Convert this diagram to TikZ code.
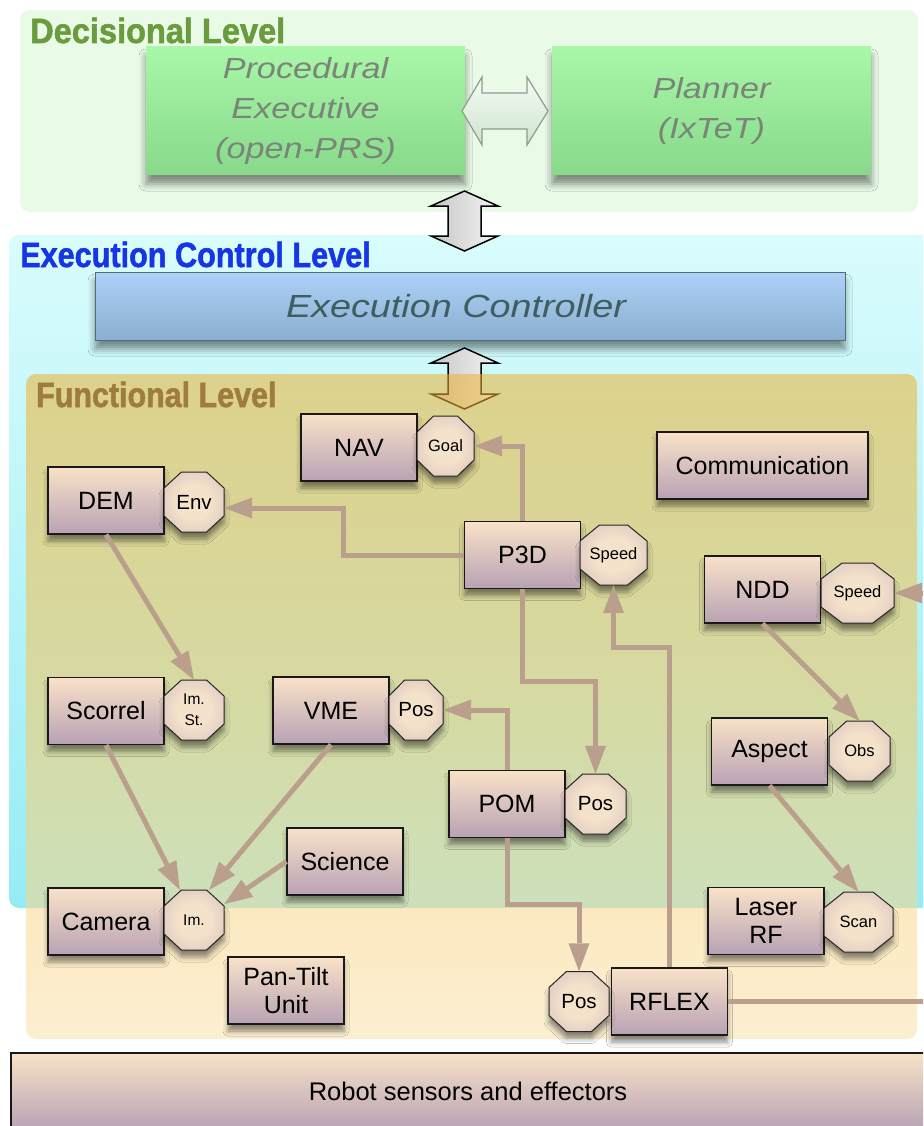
\documentclass[tikz,border=0pt]{standalone}
\usepackage{fontspec}
\usepackage{graphicx}
\setmainfont{Liberation Sans}
\newfontfamily\wideit[FakeStretch=1.18]{Liberation Sans}
\newfontfamily\levelfont[BoldFeatures={FakeBold=1.6}]{Liberation Sans}
\usetikzlibrary{arrows.meta,shadows.blur,calc}

% palette
\definecolor{decbg}{HTML}{E9FBE7}
\definecolor{cyantop}{HTML}{DAFCFD}
\definecolor{cyanbot}{HTML}{96ECF4}
\definecolor{decboxtop}{HTML}{A9F7A9}
\definecolor{decboxbot}{HTML}{88D98A}
\definecolor{dectext}{HTML}{7A857A}
\definecolor{hollowdraw}{HTML}{8F9A8F}
\definecolor{hollowtop}{HTML}{F4FBF4}
\definecolor{hollowbot}{HTML}{CFE3CF}
\definecolor{ecboxtop}{HTML}{AED0F8}
\definecolor{ecboxbot}{HTML}{8AAFCF}
\definecolor{ecborder}{HTML}{4F6C78}
\definecolor{ectext}{HTML}{3E5E60}
\definecolor{functop}{HTML}{ECB232}
\definecolor{funcmid}{HTML}{FAC85F}
\definecolor{funcbot}{HTML}{FAE2AC}
\definecolor{modtop}{HTML}{F9E2C8}
\definecolor{modbot}{HTML}{B8A2B4}
\definecolor{portin}{HTML}{F4E2CA}
\definecolor{portout}{HTML}{C6AEB8}
\definecolor{conn}{HTML}{BAA08C}
\definecolor{declbl}{HTML}{6A9B3C}
\definecolor{eclbl}{HTML}{1636E6}
\definecolor{funclbl}{HTML}{9E7C3E}

% light centre fading to mauve at the edges of a port
\pgfdeclareradialshading{portball}{\pgfpoint{0bp}{0bp}}{%
  color(0bp)=(portin); color(14bp)=(portin); color(50bp)=(portout);
  color(75bp)=(portout)}

\tikzset{
  softshadow/.style={blur shadow={shadow xshift=0pt, shadow yshift=-7pt,
      shadow blur radius=5pt, shadow opacity=45}},
  bigshadow/.style={blur shadow={shadow xshift=0pt, shadow yshift=-9pt,
      shadow blur radius=7pt, shadow opacity=45}},
  decbox/.style={minimum width=319pt, minimum height=128pt, inner sep=0pt,
      top color=decboxtop, bottom color=decboxbot, text=dectext, align=center,
      font=\wideit\itshape\fontsize{29}{40}\selectfont, bigshadow},
  ecbox/.style={draw=ecborder, line width=1pt, minimum width=750pt,
      minimum height=68pt, inner sep=0pt, top color=ecboxtop,
      bottom color=ecboxbot, text=ectext, bigshadow},
  ectextstyle/.style={inner sep=0pt, text=ectext,
      font=\wideit\itshape\fontsize{32}{36}\selectfont},
  hollowarrow/.style={draw=hollowdraw, line width=1.2pt, top color=hollowtop,
      bottom color=hollowbot},
  dblarrow/.style={draw=black, line width=1.5pt, line join=miter,
      left color=gray!45, right color=gray!8},
  levellabel/.style={anchor=base west, inner sep=0pt,
      font=\levelfont\bfseries\fontsize{35}{40}\selectfont},
  module/.style={draw=black!90, line width=1.1pt, top color=modtop,
      bottom color=modbot, minimum width=116pt, minimum height=67pt,
      inner sep=0pt, align=center, text=black,
      font=\fontsize{25}{28}\selectfont, softshadow},
  portshape/.style={draw=black!85, line width=1pt, shading=portball,
      softshadow},
  porttext/.style={inner sep=0pt, minimum height=60pt, align=center,
      text=black},
  link/.style={draw=conn, line width=5pt,
      -{Triangle[length=28pt,width=21pt,line width=0pt]}},
  robotbox/.style={draw=black!90, line width=1.2pt, top color=modtop,
      bottom color=modbot, inner sep=0pt,
      font=\fontsize{25.5}{28}\selectfont},
}

% octagonal port: name, centre x, centre y, width, font size, label
\newcommand\portat[6]{%
  \pgfmathsetmacro\oxl{#2-#4/2}\pgfmathsetmacro\oxr{#2+#4/2}%
  \pgfmathsetmacro\oxa{#2-#4/2+0.29*#4}\pgfmathsetmacro\oxb{#2+#4/2-0.29*#4}%
  \pgfmathsetmacro\oyt{#3-30}\pgfmathsetmacro\oyb{#3+30}%
  \pgfmathsetmacro\oyu{#3-14}\pgfmathsetmacro\oyv{#3+14}%
  \shade[portshape] (\oxa,\oyt) -- (\oxb,\oyt) -- (\oxr,\oyu) -- (\oxr,\oyv)
     -- (\oxb,\oyb) -- (\oxa,\oyb) -- (\oxl,\oyv) -- (\oxl,\oyu) -- cycle;
  \node[porttext, minimum width=#4pt, font=\fontsize{#5}{21}\selectfont]
     (#1) at (#2,#3) {#6};
}

% vertical two-headed block arrow: centre x, top tip y, bottom tip y
\newcommand\vdarrow[3]{%
  \path[dblarrow] (#1,#2) -- ({#1+33.5},{#2+15}) -- ({#1+16.5},{#2+15})
     -- ({#1+16.5},{#3-15}) -- ({#1+33.5},{#3-15}) -- (#1,#3)
     -- ({#1-33.5},{#3-15}) -- ({#1-16.5},{#3-15}) -- ({#1-16.5},{#2+15})
     -- ({#1-33.5},{#2+15}) -- cycle;
}

\begin{document}
\begin{tikzpicture}[x=1pt,y=-1pt]
\useasboundingbox (0,0) rectangle (923,1126);
\clip (0,0) rectangle (923,1126);
\fill[white] (0,0) rectangle (923,1126);

% level backgrounds
\fill[decbg, rounded corners=10pt] (20,10) rectangle (918,212);
\shade[rounded corners=10pt, top color=cyantop, bottom color=cyanbot]
  (9,235) rectangle (950,908);

% decisional level
\node[decbox] (proc) at (305.5,111) {Procedural\\Executive\\(open-PRS)};
\node[decbox] (plan) at (711.5,111) {Planner\\(IxTeT)};
\path[hollowarrow] (462,111) -- (482,77) -- (482,93) -- (527,93) -- (527,77)
  -- (548,111) -- (527,145) -- (527,129) -- (482,129) -- (482,145) -- cycle;

\vdarrow{464.5}{191}{251}

% execution control level
\node[ecbox] (ec) at (470,306) {};
\node[ectextstyle] (ectext) at ([xshift=-14pt]ec.center) {Execution Controller};
\vdarrow{464.5}{348}{409}

% functional level (translucent over the layers behind it)
\shade[rounded corners=10pt, opacity=0.55, top color=functop,
  bottom color=funcbot, middle color=funcmid] (26,374) rectangle (917,1039);

% level titles
\node[levellabel, text=declbl] (lbldec) at (30,43)
  {\scalebox{0.93}[1]{Decisional Level}};
\node[levellabel, text=eclbl] (lblec) at (20,267)
  {\scalebox{0.875}[1]{Execution Control Level}};
\node[levellabel, text=funclbl] (lblfun) at (36,407)
  {\scalebox{0.87}[1]{Functional Level}};

% modules
\node[module] (nav) at (359,447.5) {NAV};
\node[module, minimum width=211pt] (comm) at (762.5,465.5) {Communication};
\node[module] (dem) at (106,500.5) {DEM};
\node[module] (p3d) at (522.5,555) {P3D};
\node[module] (ndd) at (762.5,589.5) {NDD};
\node[module] (scorrel) at (106,711) {Scorrel};
\node[module] (vme) at (331,710.5) {VME};
\node[module] (pom) at (507,804) {POM};
\node[module] (aspect) at (769.5,751.5) {Aspect};
\node[module] (science) at (345,861.5) {Science};
\node[module] (camera) at (106,921.5) {Camera};
\node[module] (laser) at (766,921) {Laser\\RF};
\node[module] (pantilt) at (286,990.5) {Pan-Tilt\\Unit};
\node[module] (rflex) at (669.5,1001.5) {RFLEX};

% posters
\portat{goal}{445.5}{446}{57}{16.5}{Goal}
\portat{env}{194}{502}{60}{20.5}{Env}
\portat{pspeed}{613.5}{555}{67}{16.5}{Speed}
\portat{nspeed}{857.5}{593}{73}{16.5}{Speed}
\portat{imst}{194}{710}{60}{15.5}{Im.\\St.}
\portat{vpos}{416}{710}{54}{20.5}{Pos}
\portat{ppos}{595.5}{804}{61}{20.5}{Pos}
\portat{obs}{859.5}{751}{61}{16.5}{Obs}
\portat{im}{194}{920}{60}{15.5}{Im.}
\portat{scan}{858.5}{922}{69}{16.5}{Scan}
\portat{rpos}{579}{1001.5}{60}{20.5}{Pos}

% data flow between modules
\draw[link] (p3d.north) |- (goal.east);
\draw[link] (p3d.west) -- ++(-120,0) |- ([yshift=-6pt]env.east);
\draw[link] (p3d.south) -- ++(0,92) -| (ppos.north);
\draw[link] (rflex.north) -- ++(0,-320) -| (pspeed.south);
\draw[link] (pom.north) |- (vpos.east);
\draw[link] (pom.south) -- ++(0,66) -| (rpos.north);
\draw[link] (rflex.east) -- ++(215,0) |- (nspeed.east);
\draw[link] (ndd.south) -- (obs.north);
\draw[link] (aspect.south) -- (scan.north);
\draw[link] (dem.south) -- (imst.north);
\draw[link] (scorrel.south) -- ([xshift=16pt]im.north west);
\draw[link] (vme.south) -- ([xshift=-15pt]im.north east);
\draw[link] (science.west) -- ([yshift=16pt]im.east);

% hardware layer
\node[robotbox, minimum width=914pt, minimum height=77pt] (robot)
  at (468,1091.5) {Robot sensors and effectors};
\end{tikzpicture}
\end{document}
